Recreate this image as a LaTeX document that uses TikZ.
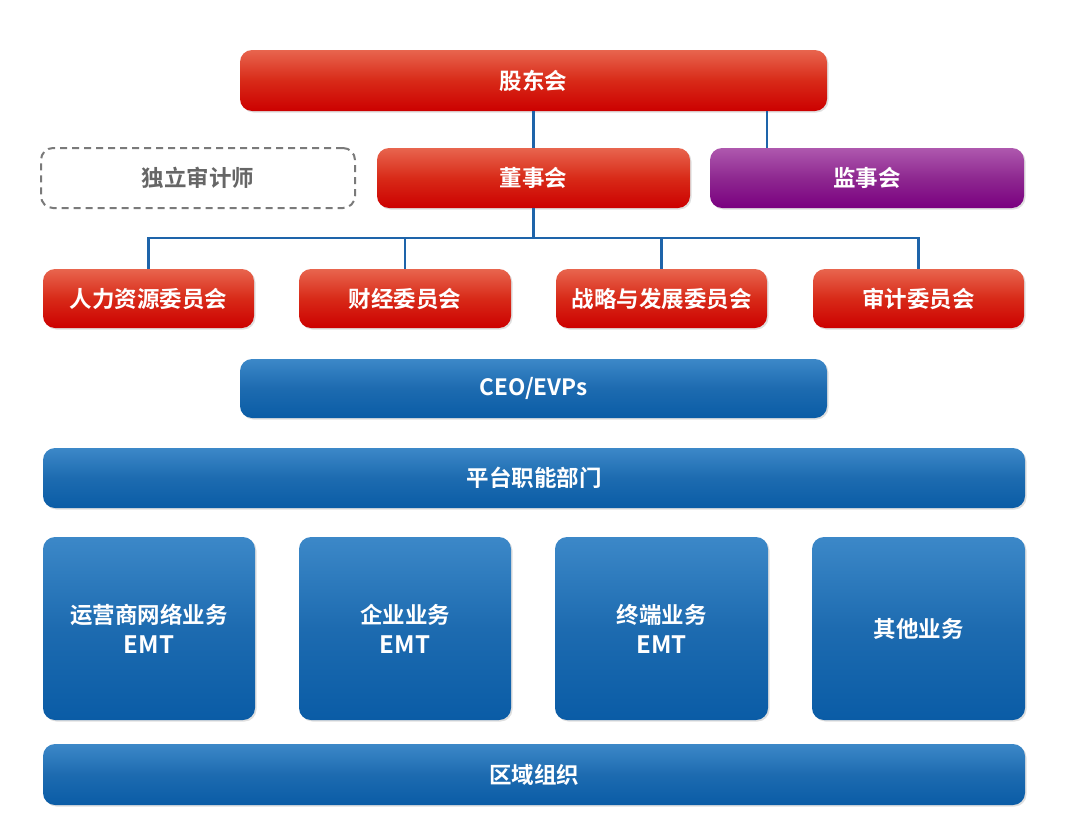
\documentclass[tikz,border=0pt]{standalone}
\usepackage{fontspec}
\setmainfont{Noto Sans CJK SC}[BoldFont={Noto Sans CJK SC Bold}]
\usetikzlibrary{shadows}
\definecolor{redtop}{HTML}{E8654E}
\definecolor{redmid}{HTML}{D82A18}
\definecolor{redbot}{HTML}{CC0000}
\definecolor{purtop}{HTML}{AE58AE}
\definecolor{purmid}{HTML}{8E2890}
\definecolor{purbot}{HTML}{7A0080}
\definecolor{blutop}{HTML}{3C88C8}
\definecolor{blumid}{HTML}{1D6BB0}
\definecolor{blubot}{HTML}{0A5CA6}
\definecolor{linkblue}{HTML}{1E64AA}
\definecolor{dashgray}{HTML}{7A7A7A}
\definecolor{txtgray}{HTML}{666666}
\newcommand{\emtline}{{\fontsize{24}{30}\selectfont EMT}}
\tikzset{
  box/.style={rectangle, rounded corners=12pt, inner sep=0pt, text=white,
    font=\bfseries\fontsize{22.5}{30}\selectfont, align=center,
    drop shadow={opacity=0.25, shadow xshift=1.5pt, shadow yshift=-1.5pt}},
  redbox/.style={box, top color=redtop, bottom color=redbot, middle color=redmid},
  purbox/.style={box, top color=purtop, bottom color=purbot, middle color=purmid},
  bluebox/.style={box, top color=blutop, bottom color=blubot, middle color=blumid},
  dashbox/.style={rectangle, rounded corners=12pt, inner sep=0pt, draw=dashgray,
    line width=2pt, dash pattern=on 7pt off 5pt, text=txtgray,
    font=\bfseries\fontsize{22.5}{30}\selectfont},
  link/.style={draw=linkblue, line width=2.5pt}
}
\begin{document}
\begin{tikzpicture}[x=1pt,y=-1pt]
\useasboundingbox (0,0) rectangle (1080,822);
% connectors (behind boxes)
\coordinate (jsx) at (767,0);
\coordinate (bus) at (0,238);
% top level
\node[redbox, minimum width=587pt, minimum height=61pt] (gd) at (533.5,80.5) {股东会};
\node[redbox, minimum width=313pt, minimum height=60pt] (ds) at (533.5,178) {董事会};
\node[purbox, minimum width=314pt, minimum height=60pt] (js) at (867,178) {监事会};
\node[dashbox, minimum width=314pt, minimum height=60pt] (ind) at (198,178) {独立审计师};
% committees
\node[redbox, minimum width=211pt, minimum height=59pt] (c1) at (148.5,298.5) {人力资源委员会};
\node[redbox, minimum width=212pt, minimum height=59pt] (c2) at (405,298.5) {财经委员会};
\node[redbox, minimum width=211pt, minimum height=59pt] (c3) at (661.5,298.5) {战略与发展委员会};
\node[redbox, minimum width=211pt, minimum height=59pt] (c4) at (918.5,298.5) {审计委员会};
% management
\node[bluebox, minimum width=587pt, minimum height=59pt] (ceo) at (533.5,388.5) {CEO/EVPs};
\node[bluebox, minimum width=982pt, minimum height=60pt] (pt) at (534,478) {平台职能部门};
\node[bluebox, minimum width=212pt, minimum height=183pt] (b1) at (149,628.5) {运营商网络业务\\\emtline};
\node[bluebox, minimum width=212pt, minimum height=183pt] (b2) at (405,628.5) {企业业务\\\emtline};
\node[bluebox, minimum width=213pt, minimum height=183pt] (b3) at (661.5,628.5) {终端业务\\\emtline};
\node[bluebox, minimum width=213pt, minimum height=183pt] (b4) at (918.5,628.5) {其他业务};
\node[bluebox, minimum width=982pt, minimum height=61pt] (qy) at (534,774.5) {区域组织};
% connectors
\path[link] (gd.south) -- (ds.north);
\path[link] (gd.south -| jsx) -- (js.north -| jsx);
\path[link] (ds.south) -- (ds.south |- bus);
\path[link] (c1.north) -- (c1.north |- bus) -- (c4.north |- bus) -- (c4.north);
\path[link] (c2.north) -- (c2.north |- bus);
\path[link] (c3.north) -- (c3.north |- bus);
\end{tikzpicture}
\end{document}
